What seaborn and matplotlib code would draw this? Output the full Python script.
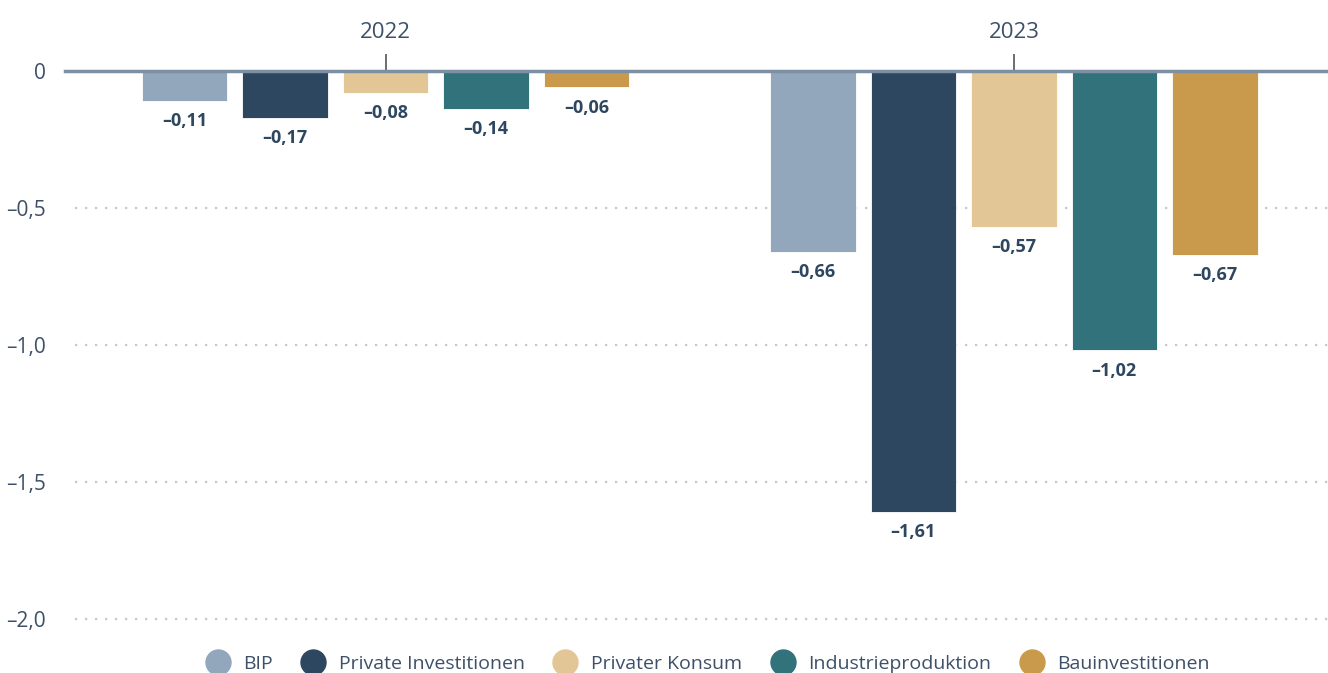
import pandas as pd
import seaborn as sns
import matplotlib.pyplot as plt
from matplotlib.lines import Line2D

# data
years = ['2022', '2023']
series = ['BIP', 'Private Investitionen', 'Privater Konsum', 'Industrieproduktion', 'Bauinvestitionen']
bip = [-0.11, -0.66]
private_inv = [-0.17, -1.61]
privater_konsum = [-0.08, -0.57]
industrie = [-0.14, -1.02]
bau = [-0.06, -0.67]
colors = ['#92a7bb', '#2e4760', '#e2c695', '#32727b', '#c99a4b']
y_ticks = [0, -0.5, -1.0, -1.5, -2.0]
y_ticklabels = ['0', '–0,5', '–1,0', '–1,5', '–2,0']

values = [bip, private_inv, privater_konsum, industrie, bau]
df = pd.DataFrame([
    {'Jahr': y, 'Reihe': s, 'Wert': v[i]}
    for s, v in zip(series, values) for i, y in enumerate(years)
])

sns.set_theme(style='white')
plt.rcParams['font.family'] = ['Open Sans', 'DejaVu Sans']
text_col = '#3d5068'
label_col = '#2e4760'

fig = plt.figure(figsize=(13.28, 6.73), dpi=100)
ax = fig.add_axes([0.049, 0.064, 0.951, 0.8305])

sns.barplot(data=df, x='Jahr', y='Wert', hue='Reihe', order=years, hue_order=series,
            palette=colors, saturation=1, gap=0.15, width=0.8, legend=False, ax=ax,
            edgecolor='white', linewidth=0.6)

for cont in ax.containers:
    labs = ['–' + f'{abs(b.get_height()):.2f}'.replace('.', ',') for b in cont]
    ax.bar_label(cont, labels=labs, padding=8, fontsize=13, fontweight='bold', color=label_col)

ax.set_xlim(-0.51, 1.5)
ax.set_ylim(-2.04, 0)
ax.set_yticks(y_ticks)
ax.set_yticklabels(y_ticklabels)
ax.set_xlabel('')
ax.set_ylabel('')

for sp in ['left', 'right', 'bottom']:
    ax.spines[sp].set_visible(False)
ax.spines['top'].set_color('#7d90a3')
ax.spines['top'].set_linewidth(2.5)
ax.spines['top'].set_zorder(5)

ax.xaxis.tick_top()
ax.tick_params(axis='x', top=True, bottom=False, direction='out', length=12, width=1.2,
               color='#555555', labelsize=16, labelcolor=text_col, pad=8)
ax.tick_params(axis='y', left=False, labelsize=15, labelcolor=text_col, pad=8)

for y in y_ticks[1:]:
    ax.axhline(y, xmin=0.008, color='#bfc9d4', linestyle=(0, (1, 3.5)), linewidth=1.6, zorder=0)

handles = [Line2D([], [], marker='o', linestyle='', markersize=18, markerfacecolor=c,
                  markeredgecolor=c) for c in colors]
fig.legend(handles, series, loc='center', bbox_to_anchor=(0.53, 0.014), ncol=5,
           frameon=False, fontsize=14, labelcolor=text_col, handletextpad=0.3,
           columnspacing=1.1)

fig.savefig('out.png', dpi=100)
